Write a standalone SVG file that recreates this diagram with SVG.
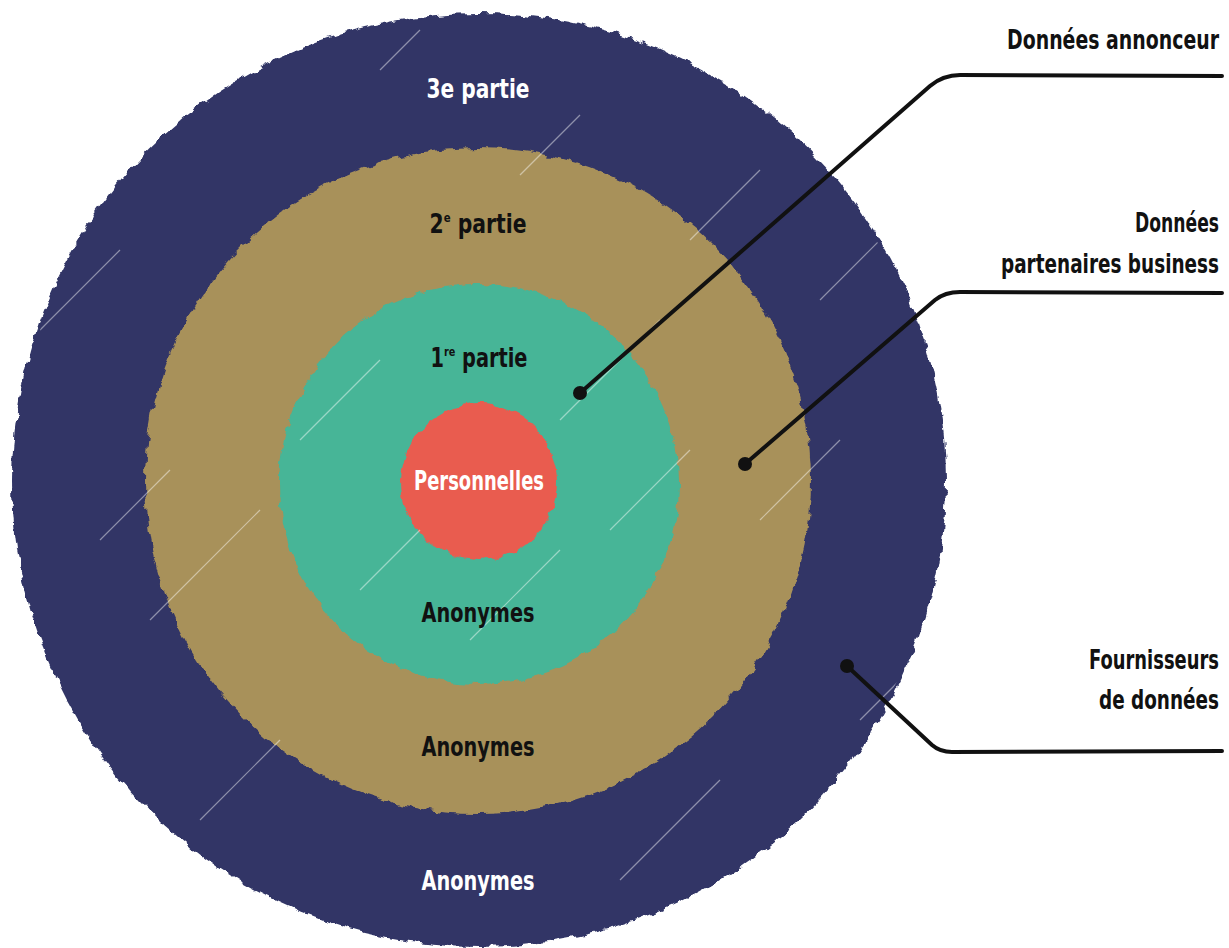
<svg xmlns="http://www.w3.org/2000/svg" width="1229" height="948" viewBox="0 0 1229 948">
<defs>
<style>
.lbl{font-family:"DejaVu Sans Condensed","Liberation Sans",sans-serif;font-size:26px;font-weight:bold;}
.w{fill:#ffffff;}
.k{fill:#111111;}
.mid{text-anchor:middle;}
.end{text-anchor:end;}
.sup{font-size:13px;}
.conn{fill:none;stroke:#111111;stroke-width:4;stroke-linecap:round;stroke-linejoin:round;}
.dot{fill:#111111;}
.streak{stroke:#ffffff;stroke-width:1.2;opacity:0.45;}
</style>
<filter id="rough" x="-5%" y="-5%" width="110%" height="110%">
<feTurbulence type="fractalNoise" baseFrequency="0.09" numOctaves="2" seed="3" result="n"/>
<feDisplacementMap in="SourceGraphic" in2="n" scale="9" xChannelSelector="R" yChannelSelector="G"/>
</filter>
<clipPath id="outerClip"><circle cx="479" cy="480" r="464"/></clipPath>
</defs>
<g id="ring-3e" filter="url(#rough)"><circle cx="479" cy="480" r="467" fill="#303566"/></g>
<g id="ring-2e" filter="url(#rough)"><circle cx="478" cy="481" r="333" fill="#a8915a"/></g>
<g id="ring-1re" filter="url(#rough)"><circle cx="479" cy="484" r="200" fill="#46b597"/></g>
<g id="core" filter="url(#rough)"><circle cx="479" cy="482" r="78" fill="#e95b4f"/></g>
<g id="streaks" clip-path="url(#outerClip)">
<line class="streak" x1="40" y1="330" x2="120" y2="250"/>
<line class="streak" x1="150" y1="620" x2="260" y2="510"/>
<line class="streak" x1="300" y1="440" x2="380" y2="360"/>
<line class="streak" x1="560" y1="420" x2="660" y2="320"/>
<line class="streak" x1="610" y1="530" x2="690" y2="450"/>
<line class="streak" x1="690" y1="240" x2="760" y2="170"/>
<line class="streak" x1="760" y1="520" x2="840" y2="440"/>
<line class="streak" x1="820" y1="300" x2="900" y2="220"/>
<line class="streak" x1="470" y1="640" x2="560" y2="550"/>
<line class="streak" x1="360" y1="590" x2="420" y2="530"/>
<line class="streak" x1="200" y1="820" x2="280" y2="740"/>
<line class="streak" x1="620" y1="880" x2="720" y2="780"/>
<line class="streak" x1="860" y1="720" x2="930" y2="650"/>
<line class="streak" x1="100" y1="540" x2="170" y2="470"/>
<line class="streak" x1="380" y1="70" x2="420" y2="30"/>
<line class="streak" x1="520" y1="175" x2="580" y2="115"/>
</g>
<g id="labels-rings">
<text class="lbl w mid" x="478" y="98" textLength="103" lengthAdjust="spacingAndGlyphs">3e partie</text>
<text class="lbl k mid" x="478" y="233" textLength="97" lengthAdjust="spacingAndGlyphs">2<tspan class="sup" dy="-11">e</tspan><tspan dy="11"> partie</tspan></text>
<text class="lbl k mid" x="479" y="367" textLength="97" lengthAdjust="spacingAndGlyphs">1<tspan class="sup" dy="-11">re</tspan><tspan dy="11"> partie</tspan></text>
<text class="lbl w mid" x="479" y="490" textLength="130" lengthAdjust="spacingAndGlyphs">Personnelles</text>
<text class="lbl k mid" x="478" y="622" textLength="113" lengthAdjust="spacingAndGlyphs">Anonymes</text>
<text class="lbl k mid" x="478" y="756" textLength="113" lengthAdjust="spacingAndGlyphs">Anonymes</text>
<text class="lbl w mid" x="478" y="890" textLength="113" lengthAdjust="spacingAndGlyphs">Anonymes</text>
</g>
<g id="connectors">
<path class="conn" d="M580,393 L930,86 Q943,75 960,75 L1222,76"/>
<circle class="dot" cx="580" cy="393" r="7"/>
<path class="conn" d="M745,464 L935,300 Q945,292 960,292 L1222,293"/>
<circle class="dot" cx="745" cy="464" r="7"/>
<path class="conn" d="M847,666 L932,745 Q940,752 952,752 L1222,751"/>
<circle class="dot" cx="847" cy="666" r="7"/>
</g>
<g id="label-annonceur"><text class="lbl k end" x="1219" y="49" textLength="212" lengthAdjust="spacingAndGlyphs">Données annonceur</text></g>
<g id="label-partenaires"><text class="lbl k end" x="1219" y="232" textLength="84" lengthAdjust="spacingAndGlyphs">Données</text><text class="lbl k end" x="1219" y="273" textLength="218" lengthAdjust="spacingAndGlyphs">partenaires business</text></g>
<g id="label-fournisseurs"><text class="lbl k end" x="1219" y="669" textLength="130" lengthAdjust="spacingAndGlyphs">Fournisseurs</text><text class="lbl k end" x="1219" y="709" textLength="120" lengthAdjust="spacingAndGlyphs">de données</text></g>
</svg>
